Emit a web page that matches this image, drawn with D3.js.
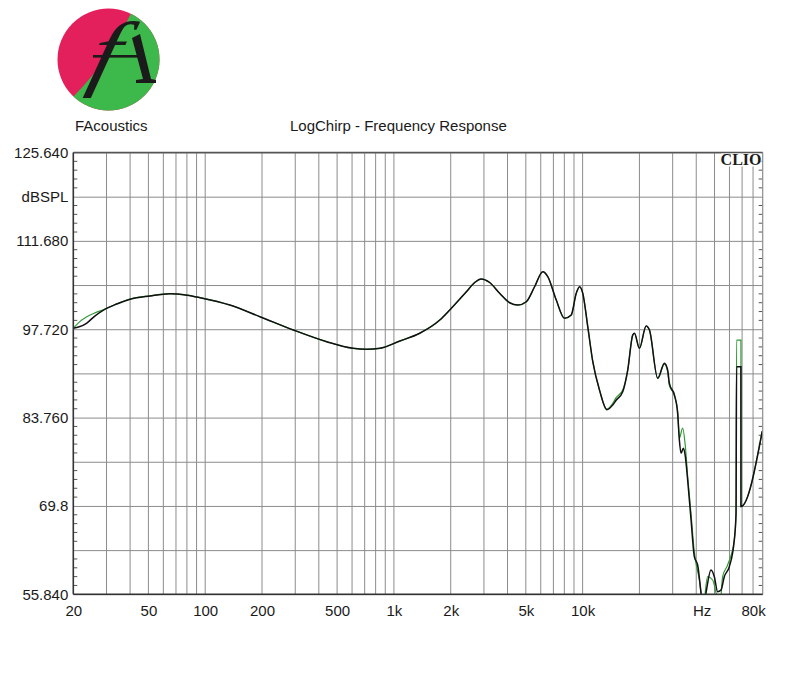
<!DOCTYPE html>
<html>
<head>
<meta charset="utf-8">
<script src="https://cdn.jsdelivr.net/npm/d3@7"></script>
<style>
  html, body { margin: 0; padding: 0; background: #fff; }
  svg { display: block; }
  text { font-family: "Liberation Sans", Arial, sans-serif; fill: #1a1a1a; }
</style>
</head>
<body>
<svg id="chart" width="800" height="700"></svg>
<script>
// ---------------- DATA ----------------
const titleLeft = "FAcoustics";
const titleMain = "LogChirp - Frequency Response";
const brand = "CLIO";

const yGridValues = [55.84, 62.82, 69.80, 76.78, 83.76, 90.74, 97.72, 104.70, 111.68, 118.66, 125.64];
const yGridLabels = ["55.840", "", "69.8", "", "83.760", "", "97.720", "", "111.680", "dBSPL", "125.640"];

const xTickValues = [20, 50, 100, 200, 500, 1000, 2000, 5000, 10000, 80000];
const xTickLabels = ["20", "50", "100", "200", "500", "1k", "2k", "5k", "10k", "80k"];
const xUnitLabel = "Hz";
const xUnitFreq = 43000;

// Black trace: [frequency Hz, dB SPL]
const blackFreq = [20, 21.5, 23.6, 26, 28.9, 34, 40, 51, 65, 80, 94, 135, 195, 293, 440, 608, 716, 842, 1076, 1370, 1750, 1976, 2421, 2680, 2900, 3217, 3634, 4105, 4540, 5030, 5564, 6155, 6545, 7250, 8020, 8700, 9250, 9630, 10020, 10650, 11320, 12290, 13450, 14440, 15050, 16310, 17340, 18430, 18820, 20000, 21700, 22600, 25000, 27120, 28220, 28830, 30640, 31880, 32560, 33240, 34180, 35020, 36020, 37550, 39080, 40700, 42430, 43660, 45080, 47900, 49880, 51920, 54120, 56330, 59880, 63630, 65000, 65440, 69000, 69050, 89500];
const blackDb   = [97.86, 98.1, 98.7, 99.8, 100.75, 101.7, 102.44, 102.97, 103.33, 103.1, 102.7, 101.54, 99.7, 97.6, 95.75, 94.7, 94.55, 94.7, 95.86, 97.08, 99.17, 100.75, 103.64, 105.1, 105.65, 105.1, 103.39, 101.9, 101.54, 102.06, 104.43, 106.8, 106.0, 102.33, 99.44, 99.96, 103.39, 104.43, 103.39, 98.1, 92.6, 88.1, 85.0, 85.75, 86.5, 87.85, 91.27, 96.8, 97.07, 94.7, 98.23, 97.59, 89.96, 92.33, 91.27, 89.17, 87.33, 84.43, 80.2, 78.12, 78.9, 77.58, 73.9, 67.58, 61.78, 60.47, 56.05, 53.4, 56.05, 59.68, 58.62, 56.25, 56.52, 58.62, 60.2, 64.4, 68.6, 91.8, 91.8, 69.7, 81.6];

// Green trace
const greenFreq = [20, 21.8, 23.6, 26, 28.9, 34, 40, 51, 65, 80, 94, 135, 195, 293, 440, 608, 716, 842, 1076, 1370, 1750, 1976, 2421, 2680, 2900, 3217, 3634, 4105, 4540, 5030, 5564, 6155, 6545, 7250, 8020, 8700, 9250, 9630, 10020, 10650, 11320, 12290, 13450, 14440, 15050, 16310, 17340, 18430, 18820, 20000, 21700, 22600, 25000, 27120, 28220, 28830, 30640, 31880, 32560, 33890, 35000, 36020, 37550, 39080, 41560, 43500, 45960, 48870, 51000, 53400, 55180, 58660, 63630, 65000, 65440, 69000, 69050, 89500];
const greenDb   = [97.86, 99.0, 99.7, 100.3, 100.8, 101.75, 102.5, 103.0, 103.35, 103.1, 102.7, 101.54, 99.7, 97.6, 95.75, 94.7, 94.55, 94.7, 95.86, 97.08, 99.17, 100.75, 103.64, 105.1, 105.65, 105.1, 103.39, 101.9, 101.54, 102.06, 104.43, 106.8, 106.0, 102.33, 99.44, 99.96, 103.39, 104.43, 103.39, 98.1, 92.6, 88.1, 85.1, 86.0, 86.9, 88.1, 91.27, 96.8, 97.07, 94.7, 98.23, 97.59, 89.96, 92.2, 91.0, 88.8, 87.3, 84.8, 80.5, 82.1, 79.3, 74.5, 68.5, 62.5, 58.1, 54.0, 58.62, 58.1, 56.0, 54.0, 58.62, 60.47, 64.4, 68.5, 96.0, 96.0, 69.7, 81.6];

// ---------------- LAYOUT ----------------
const svg = d3.select("#chart");
const L = 73.3, R = 762.7, T = 152.5, B = 594.3;
const gridColor = "#8c8c8c";

const x = d3.scaleLog().domain([20, 90000]).range([L, R]);
const y = d3.scaleLinear().domain([55.84, 125.64]).range([B, T]);

// ---------------- LOGO ----------------
const logo = svg.append("g");
const cx = 108.5, cy = 59.5, r = 51;
const defs = svg.append("defs");
defs.append("clipPath").attr("id", "logoClip")
  .append("circle").attr("cx", cx).attr("cy", cy).attr("r", r);
defs.append("clipPath").attr("id", "plotClip")
  .append("rect").attr("x", L).attr("y", T).attr("width", R - L).attr("height", B - T);

logo.append("circle").attr("cx", cx).attr("cy", cy).attr("r", r).attr("fill", "#e3205c");
logo.append("path")
  .attr("clip-path", "url(#logoClip)")
  .attr("d", "M138,0 L220,0 L220,130 L40,130 L72,98 Q96,74 112,48 Q126,24 138,0 Z")
  .attr("fill", "#3db84a");
// f glyph
logo.append("text")
  .attr("x", 0).attr("y", 0)
  .attr("transform", "translate(86,80) skewX(-14) scale(1.2,1)")
  .style("font-family", "'Liberation Serif', 'Times New Roman', serif")
  .style("font-style", "italic")
  .style("font-size", "84px")
  .style("fill", "#1b1b1b")
  .text("f");
// crossbar extending to i
logo.append("rect").attr("x", 93).attr("y", 55).attr("width", 50).attr("height", 2.6).attr("fill", "#1b1b1b");
// i glyph
logo.append("path")
  .attr("d", "M132,38 L140,34 L151,79 L156,80 L156,83 L136,83 L136,80 L143,79 Z")
  .attr("fill", "#1b1b1b");

// ---------------- TITLES ----------------
svg.append("text").attr("x", 75).attr("y", 131).style("font-size", "15px").text(titleLeft);
svg.append("text").attr("x", 290).attr("y", 131).style("font-size", "15px").text(titleMain);

// ---------------- GRID ----------------
const xGridValues = [];
[10, 100, 1000, 10000].forEach(dec => {
  for (let k = 1; k <= 9; k++) {
    const v = dec * k;
    if (v > 20 && v < 90000) xGridValues.push(v);
  }
});

const grid = svg.append("g");
grid.selectAll("line.vg").data(xGridValues).enter().append("line")
  .attr("x1", d => x(d)).attr("x2", d => x(d))
  .attr("y1", T).attr("y2", B)
  .attr("stroke", gridColor).attr("stroke-width", 1);

// Y axis with gridlines
const yAxis = d3.axisLeft(y)
  .tickValues(yGridValues)
  .tickFormat((d, i) => yGridLabels[i])
  .tickSize(-(R - L))
  .tickPadding(5);
const yg = svg.append("g").attr("transform", `translate(${L},0)`).call(yAxis);
yg.select(".domain").remove();
yg.selectAll(".tick line").attr("stroke", gridColor).attr("stroke-width", 1);
yg.selectAll(".tick text")
  .style("font-family", "'Liberation Sans', Arial, sans-serif")
  .style("font-size", "15px").attr("fill", "#1a1a1a");

// minor ticks on left and right axes
const minor = [];
for (let i = 0; i < yGridValues.length - 1; i++) {
  for (let k = 1; k <= 4; k++) minor.push(yGridValues[i] + (yGridValues[i + 1] - yGridValues[i]) * k / 5);
}
svg.append("g").selectAll("line").data(minor).enter().append("line")
  .attr("x1", L).attr("x2", L + 4).attr("y1", d => y(d)).attr("y2", d => y(d))
  .attr("stroke", "#555").attr("stroke-width", 1);
svg.append("g").selectAll("line").data(minor).enter().append("line")
  .attr("x1", R - 4).attr("x2", R).attr("y1", d => y(d)).attr("y2", d => y(d))
  .attr("stroke", "#555").attr("stroke-width", 1);

// X axis labels
const xAxis = d3.axisBottom(x)
  .tickValues(xTickValues)
  .tickFormat((d, i) => xTickLabels[i])
  .tickSize(0)
  .tickPadding(11);
const xg = svg.append("g").attr("transform", `translate(0,${B})`).call(xAxis);
xg.select(".domain").remove();
xg.selectAll(".tick text")
  .style("font-family", "'Liberation Sans', Arial, sans-serif")
  .style("font-size", "15px").attr("fill", "#1a1a1a");
svg.append("text").attr("x", x(xUnitFreq)).attr("y", B + 22)
  .attr("text-anchor", "middle").style("font-size", "15px").text(xUnitLabel);

// ---------------- CURVES ----------------
const line = d3.line()
  .x(d => x(d[0])).y(d => y(d[1]))
  .curve(d3.curveMonotoneX);

const greenData = greenFreq.map((f, i) => [f, greenDb[i]]);
const blackData = blackFreq.map((f, i) => [f, blackDb[i]]);

const curves = svg.append("g").attr("clip-path", "url(#plotClip)");
curves.append("path").datum(greenData).attr("d", line)
  .attr("fill", "none").attr("stroke", "#2f9a35").attr("stroke-width", 1.2);
curves.append("path").datum(blackData).attr("d", line)
  .attr("fill", "none").attr("stroke", "#111").attr("stroke-width", 1.5);

// ---------------- FRAME ----------------
svg.append("line").attr("x1", L).attr("x2", R).attr("y1", T).attr("y2", T)
  .attr("stroke", "#555").attr("stroke-width", 1.6);
svg.append("line").attr("x1", R).attr("x2", R).attr("y1", T).attr("y2", B)
  .attr("stroke", gridColor).attr("stroke-width", 1.2);
svg.append("line").attr("x1", L).attr("x2", L).attr("y1", T).attr("y2", B)
  .attr("stroke", "#333").attr("stroke-width", 1.6);
svg.append("line").attr("x1", L).attr("x2", R).attr("y1", B).attr("y2", B)
  .attr("stroke", "#333").attr("stroke-width", 1.6);

// CLIO brand
svg.append("rect").attr("x", 721).attr("y", T + 1).attr("width", 40.5).attr("height", 13).attr("fill", "#fff");
svg.append("text").attr("x", 761.5).attr("y", 165)
  .attr("text-anchor", "end")
  .style("font-family", "'Liberation Serif', 'Times New Roman', serif")
  .style("font-weight", "bold").style("font-size", "16px")
  .text(brand);
</script>
</body>
</html>
